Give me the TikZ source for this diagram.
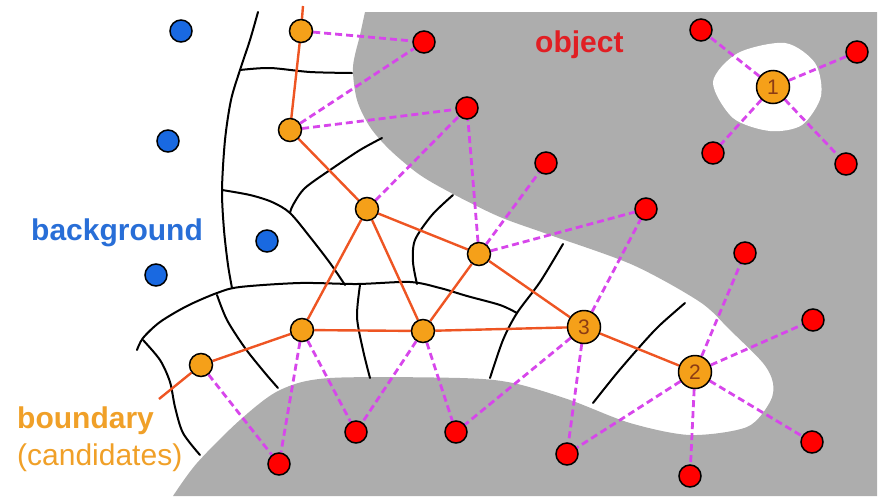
\documentclass[tikz,border=0pt]{standalone}
\usepackage{fontspec}
\setmainfont{Liberation Sans}
\pgfdeclarelayer{regions}
\pgfdeclarelayer{links}
\pgfsetlayers{regions,links,main}

\definecolor{objgray}{RGB}{173,173,173}
\definecolor{candfill}{RGB}{245,160,25}
\definecolor{edgeorange}{RGB}{238,85,35}
\definecolor{linkmag}{RGB}{215,70,235}
\definecolor{objred}{RGB}{255,0,0}
\definecolor{bgblue}{RGB}{25,105,225}
\definecolor{textblue}{RGB}{40,110,215}
\definecolor{textred}{RGB}{225,30,35}
\definecolor{textorange}{RGB}{240,160,40}
\definecolor{numbrown}{RGB}{140,60,20}

\tikzset{
  seed/.style={circle, draw=black, line width=1.5pt, inner sep=0pt, minimum size=22pt},
  bgseed/.style={seed, fill=bgblue},
  objseed/.style={seed, fill=objred},
  cand/.style={seed, fill=candfill, minimum size=23pt},
  bigcand/.style={seed, fill=candfill, minimum size=33pt, text=numbrown,
    font=\fontsize{21}{21}\selectfont},
  nbr/.style={edgeorange, line width=2.4pt},
  link/.style={linkmag, line width=2.8pt, dash pattern=on 7pt off 4pt},
  spx/.style={black, line width=2pt, line cap=round, line join=round},
  lbl/.style={inner sep=0pt, anchor=base west, font=\fontsize{30}{36}\selectfont}
}

\begin{document}
\begin{tikzpicture}[x=1pt, y=-1pt]
\useasboundingbox (0,0) rectangle (887,496);

% object region (gray) with the white band cut into it
\begin{pgfonlayer}{regions}
  \fill[objgray] (365,12) -- (877,12) -- (877,496) -- (173,496)
    -- plot[smooth] coordinates {(173,496) (197,463) (240,420) (280,390) (330,378)
      (460,378) (513,383) (570,400) (630,423) (690,435) (747,427) (770,402)
      (773,383) (763,363) (730,330) (700,302) (633,265) (550,235) (500,217)
      (455,195) (420,175) (390,150) (370,127) (357,100) (353,67) (360,35) (365,12)}
    -- cycle;
  % white hole around candidate 1
  \fill[white] plot[smooth cycle] coordinates {(713,82) (738,53) (785,43)
    (815,63) (821,96) (802,125) (770,131) (733,118)};

  % superpixel borders
  \draw[spx] plot[smooth] coordinates {(258,12) (250,40) (240,70) (231,100)
    (225,140) (222,190) (224,230) (228,265) (232,288)};
  \draw[spx] plot[smooth] coordinates {(240,70) (270,68) (310,72) (352,73)};
  \draw[spx] plot[smooth] coordinates {(382,138) (360,150) (333,168) (305,188)
    (293,205) (290,213)};
  \draw[spx] plot[smooth] coordinates {(222,190) (250,195) (272,202) (290,213)
    (310,237) (330,263) (345,285)};
  \draw[spx] plot[smooth] coordinates {(137,350) (143,338) (160,322) (187,306)
    (217,293) (240,287) (300,283) (357,284) (410,282) (440,288) (467,296)
    (500,305) (517,313)};
  \draw[spx] plot[smooth] coordinates {(143,340) (160,360) (170,382) (175,407)
    (183,433) (200,455)};
  \draw[spx] plot[smooth] coordinates {(217,295) (227,320) (245,348) (265,373)
    (278,388)};
  \draw[spx] plot[smooth] coordinates {(360,285) (357,317) (363,350) (370,378)};
  \draw[spx] plot[smooth] coordinates {(453,195) (432,215) (415,240) (413,262)
    (417,284)};
  \draw[spx] plot[smooth] coordinates {(563,244) (540,282) (517,313) (503,340)
    (490,378)};
  \draw[spx] plot[smooth] coordinates {(685,303) (660,325) (643,343) (617,373)
    (593,403)};
\end{pgfonlayer}

% background seeds
\node[bgseed] (b1) at (181,31) {};
\node[bgseed] (b2) at (168,141) {};
\node[bgseed] (b3) at (267,241) {};
\node[bgseed] (b4) at (156,275) {};

% boundary candidates
\node[cand] (c1) at (301,31) {};
\node[cand] (c2) at (290,130) {};
\node[cand] (c3) at (367,209) {};
\node[cand] (c4) at (479,254) {};
\node[cand] (c5) at (302,330) {};
\node[cand] (c6) at (423,331) {};
\node[cand] (c7) at (201,365) {};
\node[bigcand] (n3) at (584,327) {3};
\node[bigcand] (n2) at (695,372) {2};
\node[bigcand] (n1) at (773,87) {1};
\coordinate (topend) at (303,6);
\coordinate (leftend) at (159,399);

% object seeds
\node[objseed] (r1) at (424,42) {};
\node[objseed] (r2) at (467,108) {};
\node[objseed] (r3) at (546,163) {};
\node[objseed] (r4) at (646,209) {};
\node[objseed] (r5) at (701,30) {};
\node[objseed] (r6) at (857,52) {};
\node[objseed] (r7) at (713,153) {};
\node[objseed] (r8) at (846,164) {};
\node[objseed] (r9) at (745,253) {};
\node[objseed] (r10) at (813,320) {};
\node[objseed] (r11) at (812,442) {};
\node[objseed] (r12) at (690,476) {};
\node[objseed] (r13) at (567,454) {};
\node[objseed] (r14) at (456,432) {};
\node[objseed] (r15) at (356,432) {};
\node[objseed] (r16) at (279,464) {};

\begin{pgfonlayer}{links}
  % neighbourhood graph of the candidates
  \draw[nbr] (topend) -- (c1) -- (c2) -- (c3);
  \draw[nbr] (c3) -- (c4) -- (n3) -- (n2);
  \draw[nbr] (c3) -- (c5);
  \draw[nbr] (c3) -- (c6);
  \draw[nbr] (c4) -- (c6);
  \draw[nbr] (leftend) -- (c7) -- (c5) -- (c6) -- (n3);

  % links from candidates to object seeds
  \foreach \a/\b in {c1/r1, c2/r1, c2/r2, c3/r2, c4/r2, c4/r3, c4/r4, n3/r4,
      n1/r5, n1/r6, n1/r7, n1/r8, n2/r9, n2/r10, n2/r11, n2/r12, n2/r13,
      n3/r13, n3/r14, c6/r14, c6/r15, c5/r15, c5/r16, c7/r16}
    \draw[link] (\a) -- (\b);
\end{pgfonlayer}

% region labels
\node[lbl, text=textred, font=\fontsize{30}{36}\selectfont\bfseries] (tobj) at (535,52) {object};
\node[lbl, text=textblue, font=\fontsize{30}{36}\selectfont\bfseries] (tbg) at (31,240) {background};
\node[lbl, text=textorange, font=\fontsize{30}{36}\selectfont\bfseries] (tbd) at (17,428) {boundary};
\node[lbl, text=textorange] (tcand) at (17,465) {(candidates)};
\end{tikzpicture}
\end{document}
